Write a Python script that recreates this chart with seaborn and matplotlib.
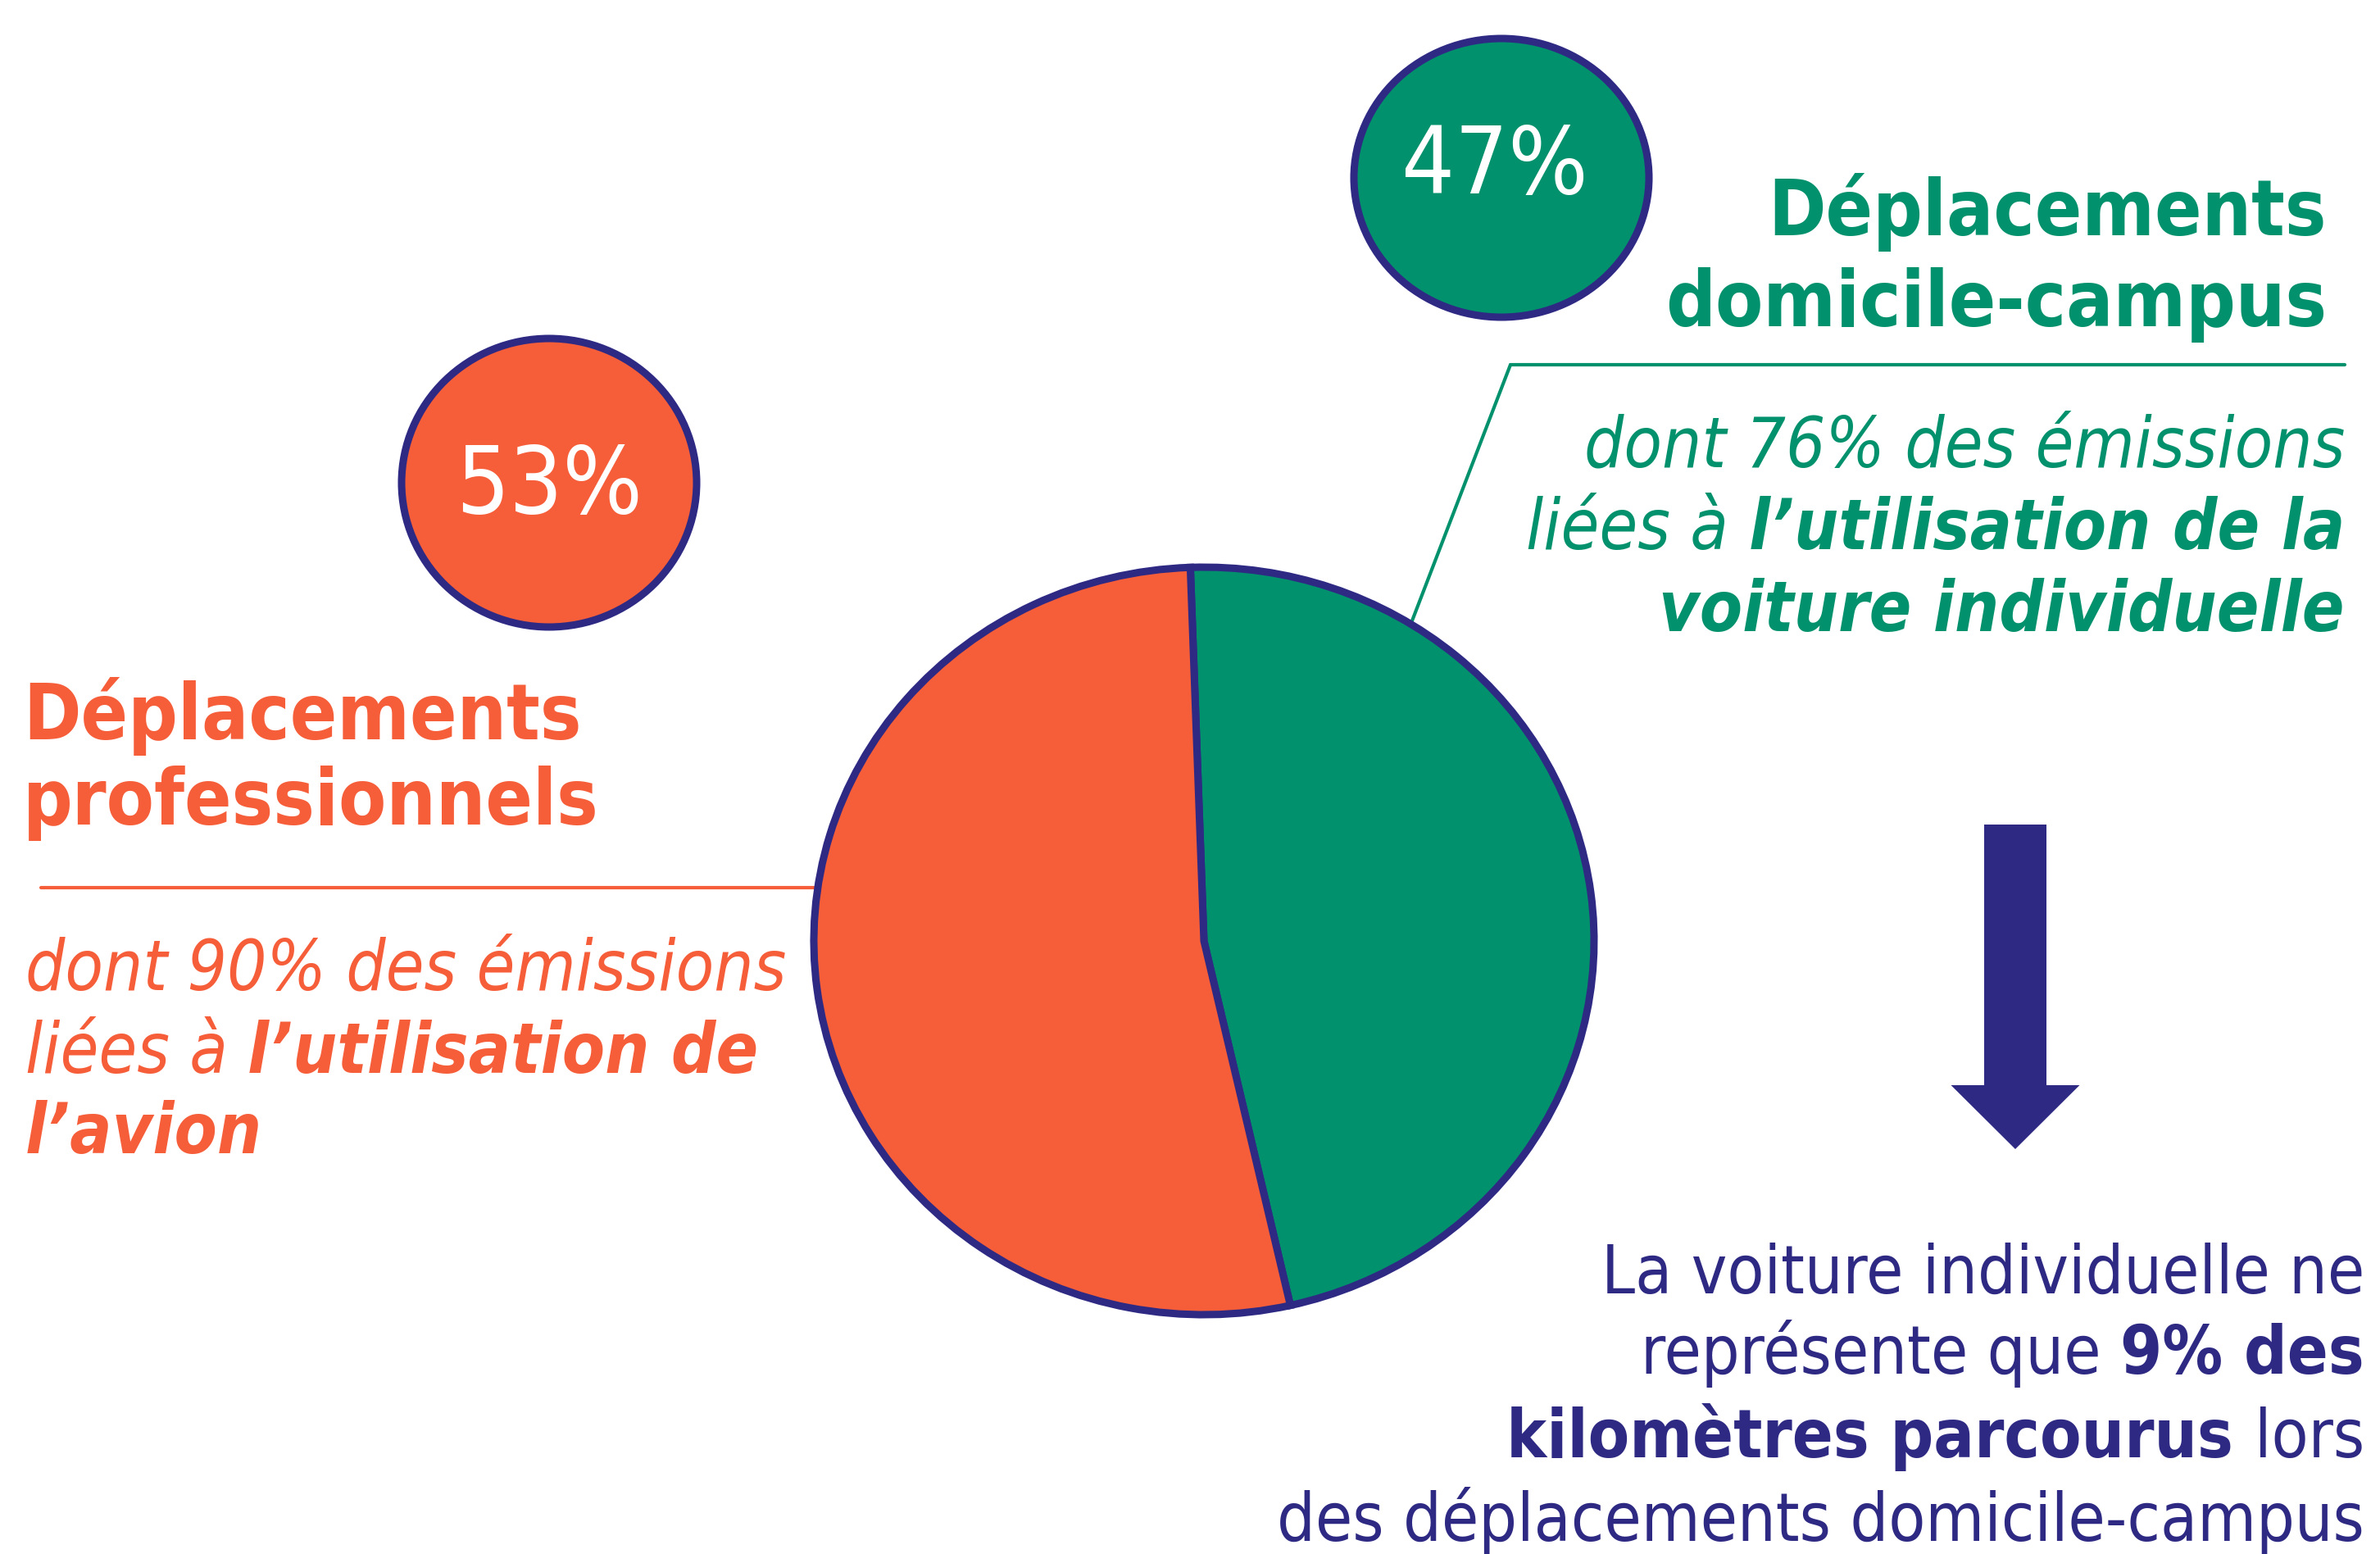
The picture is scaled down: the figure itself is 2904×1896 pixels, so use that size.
import matplotlib
matplotlib.use("Agg")
import matplotlib.pyplot as plt
import seaborn as sns
from matplotlib.patches import Ellipse, FancyArrow

# data
categories = ["Déplacements domicile-campus", "Déplacements professionnels"]
shares = [47, 53]
sub_shares = [76, 90]
car_km_share = 9

ORANGE = "#F65D39"
GREEN = "#02916D"
NAVY = "#2E2A84"

W, H = 2904, 1896


def seg_line(ax, x, y, segs, ha, color, size, style="normal", stretch="condensed"):
    """draw one line made of (text, weight) pieces, aligned left or right"""
    r = ax.figure.canvas.get_renderer()
    kw = dict(color=color, fontsize=size, fontstyle=style, fontstretch=stretch, va="baseline")

    def width(s, w):
        t = ax.text(0, 0, s, fontweight=w, **kw)
        wd = t.get_window_extent(r).width
        t.remove()
        return wd

    pieces = []
    for s, w in segs:
        gap = 0
        if s.endswith(" "):
            gap = width("a a", w) - width("aa", w)
        pieces.append((s.strip(), w, gap))

    cur = x
    if ha == "right":
        for s, w, gap in reversed(pieces):
            cur -= gap
            t = ax.text(cur, y, s, ha="right", fontweight=w, **kw)
            cur -= t.get_window_extent(r).width
    else:
        for s, w, gap in pieces:
            t = ax.text(cur, y, s, ha="left", fontweight=w, **kw)
            cur += t.get_window_extent(r).width + gap


def main():
    sns.set_theme(style="white")
    plt.rcParams["font.family"] = ["DejaVu Sans"]
    pal = sns.color_palette([GREEN, ORANGE])

    fig = plt.figure(figsize=(W / 100, H / 100), dpi=100)
    ax = fig.add_axes([0, 0, 1, 1])
    ax.set_xlim(0, W)
    ax.set_ylim(H, 0)
    ax.axis("off")

    # pie (slightly elliptical like the original)
    cx, cy, rx, ry = 1469, 1148, 476, 456
    pax = fig.add_axes([(cx - rx) / W, 1 - (cy + ry) / H, 2 * rx / W, 2 * ry / H])
    pax.pie(shares, colors=pal, startangle=92, counterclock=False,
            wedgeprops=dict(edgecolor=NAVY, linewidth=6.5))
    pax.set_aspect("auto")
    pax.set_xlim(-1, 1)
    pax.set_ylim(-1, 1)
    pax.axis("off")

    # bubbles with the shares
    ax.add_patch(Ellipse((1832, 217), 360, 340, facecolor=GREEN, edgecolor=NAVY, lw=6.5))
    ax.add_patch(Ellipse((670, 589), 360, 352, facecolor=ORANGE, edgecolor=NAVY, lw=6.5))
    ax.text(1824, 204, f"{shares[0]}%", color="white", fontsize=82, ha="center", va="center",
            fontstretch="condensed")
    ax.text(670, 595, f"{shares[1]}%", color="white", fontsize=82, ha="center", va="center",
            fontstretch="condensed")

    # green block
    seg_line(ax, 2839, 287, [("Déplacements", "bold")], "right", GREEN, 68)
    seg_line(ax, 2839, 398, [("domicile-campus", "bold")], "right", GREEN, 68)
    ax.plot([1843, 2861], [445, 445], color=GREEN, lw=3)
    ax.plot([1843, 1722], [445, 760], color=GREEN, lw=3)
    seg_line(ax, 2861, 569, [(f"dont {sub_shares[0]}% des émissions", "normal")],
             "right", GREEN, 61, "italic")
    seg_line(ax, 2861, 670, [("liées à ", "normal"), ("l’utilisation de la", "bold")],
             "right", GREEN, 61, "italic")
    seg_line(ax, 2861, 770, [("voiture individuelle", "bold")], "right", GREEN, 61, "italic")

    # orange block
    seg_line(ax, 28, 902, [("Déplacements", "bold")], "left", ORANGE, 68)
    seg_line(ax, 28, 1006, [("professionnels", "bold")], "left", ORANGE, 68)
    ax.plot([50, 1000], [1083, 1083], color=ORANGE, lw=3)
    seg_line(ax, 31, 1207, [(f"dont {sub_shares[1]}% des émissions", "normal")],
             "left", ORANGE, 61, "italic")
    seg_line(ax, 31, 1309, [("liées à ", "normal"), ("l’utilisation de", "bold")],
             "left", ORANGE, 61, "italic")
    seg_line(ax, 31, 1407, [("l’avion", "bold")], "left", ORANGE, 61, "italic")

    # arrow + conclusion
    ax.add_patch(FancyArrow(2459, 1006, 0, 396, width=76, head_width=157, head_length=78,
                            length_includes_head=True, color=NAVY, lw=0))
    seg_line(ax, 2885, 1578, [("La voiture individuelle ne", "normal")], "right", NAVY, 59)
    seg_line(ax, 2885, 1676, [("représente que ", "normal"), (f"{car_km_share}% des", "bold")],
             "right", NAVY, 59)
    seg_line(ax, 2885, 1778, [("kilomètres parcourus ", "bold"), ("lors", "normal")],
             "right", NAVY, 59)
    seg_line(ax, 2885, 1880, [("des déplacements domicile-campus", "normal")], "right", NAVY, 59)

    fig.savefig("out.png", dpi=100, facecolor="white")
    plt.close(fig)


if __name__ == '__main__':
    main()
